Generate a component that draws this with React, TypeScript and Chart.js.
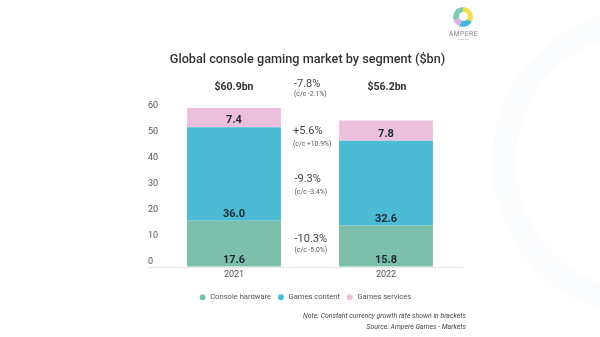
import React, { useEffect, useRef } from 'react';
import { Chart, registerables } from 'chart.js';

Chart.register(...registerables);

const categories = ['2021', '2022'];
const consoleHardware = [17.6, 15.8];
const gamesContent = [36.0, 32.6];
const gamesServices = [7.4, 7.8];
const seriesNames = ['Console hardware', 'Games content', 'Games services'];
const seriesColors = ['#7cc0ab', '#4bbcd4', '#ecc0dc'];
const totals = ['$60.9bn', '$56.2bn'];
const totalGrowth = ['-7.8%', '(c/c -2.1%)'];
const segmentGrowth = ['+5.6%', '-9.3%', '-10.3%'];
const segmentGrowthCC = ['(c/c +10.9%)', '(c/c -3.4%)', '(c/c -5.0%)'];
const yMin = 0;
const yMax = 60;
const yStep = 10;

const FONT = 'Roboto, sans-serif';

const valueLabels = {
  id: 'valueLabels',
  afterDatasetsDraw(chart: any) {
    const ctx = chart.ctx;
    ctx.save();
    ctx.font = 'bold 11px Roboto';
    ctx.fillStyle = '#1c2934';
    ctx.textAlign = 'center';
    ctx.textBaseline = 'middle';
    chart.data.datasets.forEach((ds: any, i: number) => {
      const meta = chart.getDatasetMeta(i);
      meta.data.forEach((el: any, j: number) => {
        ctx.fillText(Number(ds.data[j]).toFixed(1), el.x, el.base - 6.5);
      });
    });
    ctx.restore();
  },
};

const baseLine = {
  id: 'baseLine',
  beforeDatasetsDraw(chart: any) {
    const ctx = chart.ctx;
    const y = chart.scales.y;
    const py = Math.round(y.getPixelForValue(0)) + 0.5;
    ctx.save();
    ctx.strokeStyle = '#e6e6e6';
    ctx.lineWidth = 1;
    ctx.beginPath();
    ctx.moveTo(y.left, py);
    ctx.lineTo(chart.chartArea.right + 1, py);
    ctx.stroke();
    ctx.restore();
  },
};

function Txt(props: any) {
  const { x, y, align = 'left', size, weight = 400, color = '#444', italic = false, children, ls } = props;
  const style: any = {
    position: 'absolute',
    top: y,
    whiteSpace: 'nowrap',
    fontFamily: FONT,
    fontSize: size,
    fontWeight: weight,
    color,
    fontStyle: italic ? 'italic' : 'normal',
    lineHeight: 1,
    letterSpacing: ls,
  };
  if (align === 'left') {
    style.left = x;
    style.transform = 'translateY(-50%)';
  } else if (align === 'center') {
    style.left = x;
    style.transform = 'translate(-50%,-50%)';
  } else {
    style.right = 600 - x;
    style.transform = 'translateY(-50%)';
  }
  return <div style={style}>{children}</div>;
}

export default function App() {
  const ref = useRef<HTMLCanvasElement>(null);

  useEffect(() => {
    if (!ref.current) return;
    const seriesData = [consoleHardware, gamesContent, gamesServices];
    const chart = new Chart(ref.current, {
      type: 'bar',
      data: {
        labels: categories,
        datasets: seriesNames.map((name, i) => ({
          label: name,
          data: seriesData[i],
          backgroundColor: seriesColors[i],
          borderWidth: 0,
          categoryPercentage: 1,
          barPercentage: 0.618,
          clip: false as any,
        })),
      },
      options: {
        responsive: false,
        animation: false,
        devicePixelRatio: 1,
        layout: { padding: { left: 148, right: 138, top: 110.5, bottom: 25.9 } },
        plugins: {
          tooltip: { enabled: false },
          title: { display: false },
          legend: {
            display: true,
            position: 'bottom',
            labels: {
              usePointStyle: true,
              pointStyle: 'circle',
              boxWidth: 8,
              boxHeight: 4.2,
              padding: 6,
              color: '#555',
              font: { family: FONT, size: 7.6 },
            },
          },
        },
        scales: {
          x: {
            stacked: true,
            grid: { display: false, drawTicks: false },
            border: { display: false },
            ticks: { color: '#555', font: { family: FONT, size: 9 }, padding: 3 },
            afterFit: (s: any) => { s.height = 21; },
          },
          y: {
            stacked: true,
            min: yMin,
            max: yMax,
            grid: { display: false, drawTicks: false },
            border: { display: false },
            ticks: {
              stepSize: yStep,
              color: '#555',
              font: { family: FONT, size: 9 },
              crossAlign: 'far',
              padding: 0,
              labelOffset: -5,
            },
            afterFit: (s: any) => { s.width = 10; },
          },
        },
      },
      plugins: [baseLine, valueLabels],
    } as any);
    return () => chart.destroy();
  }, []);

  return (
    <div style={{ position: 'fixed', left: 0, top: 0, width: 600, height: 337, background: '#fff', overflow: 'hidden' }}>
      <div style={{ position: 'absolute', left: 492, top: 8, width: 260, height: 260, borderRadius: '50%', border: '24px solid rgba(226,238,248,0.18)' }} />
      <canvas ref={ref} width={600} height={337} style={{ position: 'absolute', left: 0, top: 0, width: 600, height: 337 }} />
      <div style={{ position: 'absolute', left: 453.3, top: 6.7, width: 20, height: 20, borderRadius: '50%', background: 'conic-gradient(#f2dd4a 0deg 120deg, #40b8dc 120deg 200deg, #d7b5e2 200deg 255deg, #7ccbb0 255deg 360deg)' }} />
      <div style={{ position: 'absolute', left: 458.8, top: 12.2, width: 9, height: 9, borderRadius: '50%', background: '#fff' }} />
      <Txt x={463.3} y={34.3} align="center" size={7} color="#8a8a8a" ls={0.3}>AMPERE</Txt>
      <Txt x={463.3} y={39.5} align="center" size={2.5} color="#b0b0b0">ANALYSIS</Txt>

      <Txt x={307.5} y={59} align="center" size={12.7} weight={500} color="#333">Global console gaming market by segment ($bn)</Txt>

      <Txt x={234} y={87.3} align="center" size={10.5} weight={700} color="#333">{totals[0]}</Txt>
      <Txt x={387} y={87.3} align="center" size={10.5} weight={700} color="#333">{totals[1]}</Txt>

      <Txt x={294} y={82.7} size={11} color="#444">{totalGrowth[0]}</Txt>
      <Txt x={294} y={94} size={6.8} color="#555">{totalGrowth[1]}</Txt>

      <Txt x={293} y={130} size={11} color="#444">{segmentGrowth[0]}</Txt>
      <Txt x={293} y={144} size={6.8} color="#555">{segmentGrowthCC[0]}</Txt>
      <Txt x={294.5} y={178} size={11} color="#444">{segmentGrowth[1]}</Txt>
      <Txt x={294.5} y={192} size={6.8} color="#555">{segmentGrowthCC[1]}</Txt>
      <Txt x={294.5} y={237.7} size={11} color="#444">{segmentGrowth[2]}</Txt>
      <Txt x={294.5} y={250.3} size={6.8} color="#555">{segmentGrowthCC[2]}</Txt>

      <Txt x={466} y={316} align="right" size={6.9} italic color="#444">Note: Constant currency growth rate shown in brackets</Txt>
      <Txt x={466} y={326.5} align="right" size={6.9} italic color="#444">Source: Ampere Games - Markets</Txt>
    </div>
  );
}
